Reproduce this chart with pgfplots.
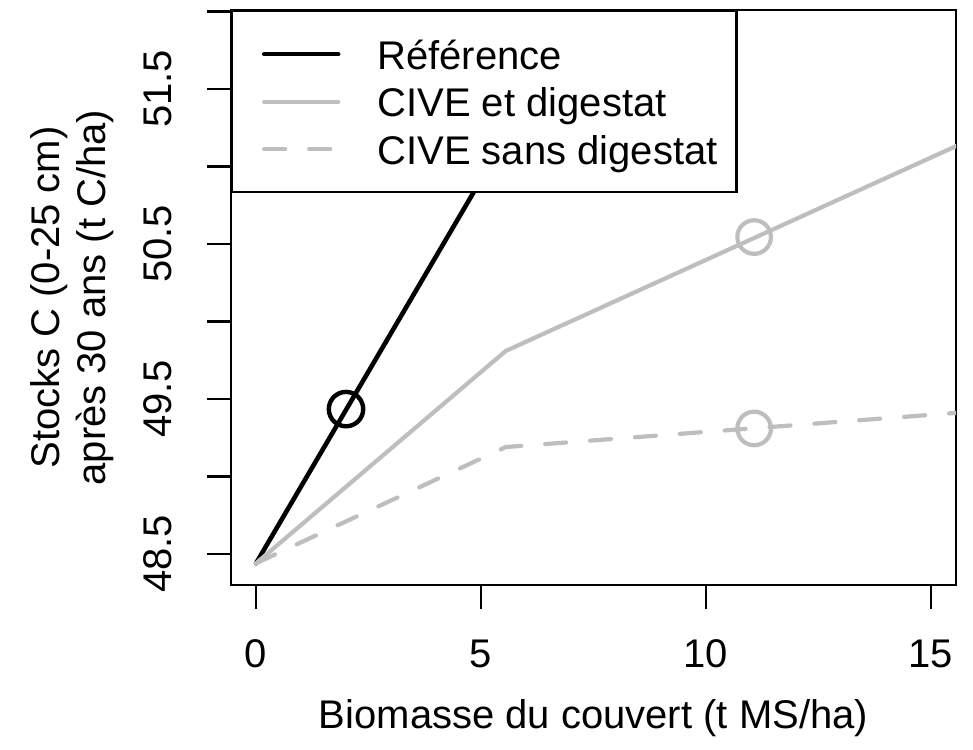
\documentclass[border=0pt]{standalone}
\usepackage{fontspec}
\setmainfont{Liberation Sans}
\usepackage{pgfplots}
\pgfplotsset{compat=1.18}
\definecolor{cgray}{RGB}{190,190,190}
\newcommand{\bigf}{\fontsize{20}{23}\selectfont}
\begin{document}
\begin{tikzpicture}
\begin{axis}[
  scale only axis,
  width=362.5pt, height=287.5pt,
  xmin=-0.556, xmax=15.556,
  ymin=48.3, ymax=52.01,
  axis line style={line width=1.2pt},
  every tick/.style={black, line width=1.2pt},
  tick align=outside,
  major tick length=12pt,
  xtick={0,5,10,15},
  xticklabels={0,5,10,15},
  ytick={48.5,49,49.5,50,50.5,51,51.5,52},
  yticklabels={48.5,,49.5,,50.5,,51.5,},
  xtick pos=bottom, ytick pos=left,
  /pgf/number format/assume math mode=true,
  tick label style={font=\bigf},
  xticklabel style={anchor=north, inner sep=0pt, text height=14.3pt, text depth=0pt},
  yticklabel style={rotate=90, anchor=south, inner sep=0pt, text depth=0pt},
  xticklabel shift=14.5pt,
  yticklabel shift=17.5pt,
  xlabel={Biomasse du couvert (t MS/ha)},
  ylabel={Stocks C (0-25 cm)\\après 30 ans (t C/ha)},
  xlabel style={font=\bigf, at={(axis description cs:0.5,-0.231)}, anchor=center},
  ylabel style={font=\bigf, align=center, at={(axis description cs:-0.219,0.5)}, anchor=center, rotate=0},
  legend style={at={(rel axis cs:0,1)}, anchor=north west, draw=black, line width=1.2pt, fill=white,
    font=\bigf, inner xsep=9.5pt, inner ysep=14pt, row sep=8.75pt, column sep=18.5pt,
    nodes={inner sep=0pt, text height=15pt, text depth=0pt}},
  legend cell align=left,
  legend image code/.code={\path[draw=none] (0pt,0pt) -- (6.5pt,0pt); \draw[#1] (6.5pt,0pt) -- (43.5pt,0pt);},
]
\addplot[black, line width=2.3pt, line cap=round] coordinates {(0,48.44) (2,49.43) (5,50.915) (8,52.40)};
\addlegendentry{Référence}
\addplot[cgray, line width=2.1pt, line cap=round, line join=round] coordinates {(0,48.44) (5.55,49.81) (16,51.19)};
\addlegendentry{CIVE et digestat}
\addplot[cgray, line width=2.1pt, line cap=round, line join=round, dash pattern=on 10.5pt off 12pt] coordinates {(0,48.44) (5.55,49.19) (16,49.42)};
\addlegendentry{CIVE sans digestat}
\addplot[black, only marks, mark=o, mark size=8.6pt, mark options={line width=2.2pt}, forget plot] coordinates {(2,49.435)};
\addplot[cgray, only marks, mark=o, mark size=8.4pt, mark options={line width=2.1pt}, forget plot] coordinates {(11.07,50.545) (11.07,49.31)};
\coordinate (sw) at (rel axis cs:0,0);
\end{axis}
\pgfresetboundingbox
\path[use as bounding box] (sw) ++(-115.5pt,-82pt) rectangle ++(486.5pt,374.5pt);
\end{tikzpicture}
\end{document}
